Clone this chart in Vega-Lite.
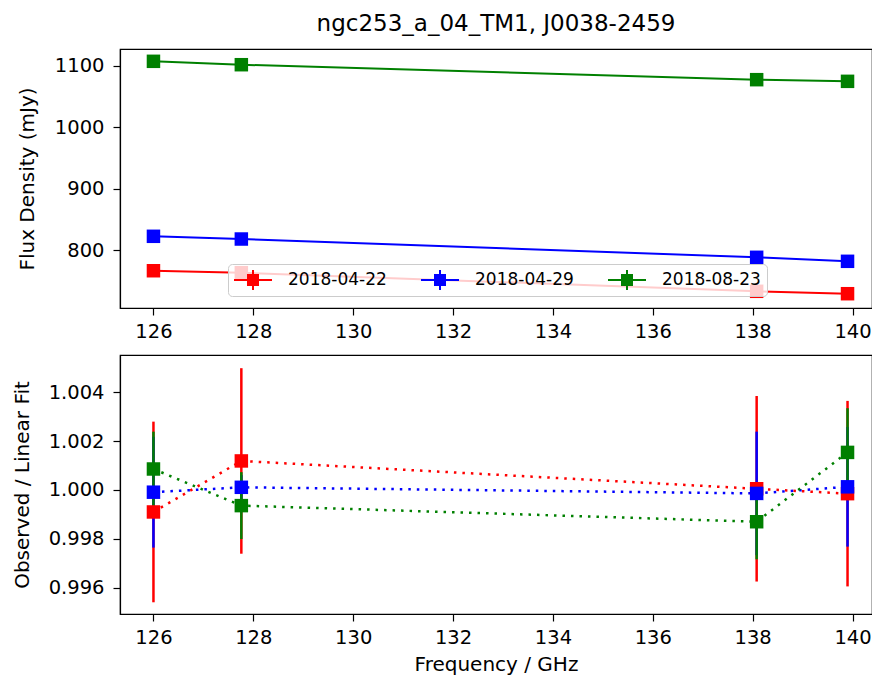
{
  "$schema": "https://vega.github.io/schema/vega-lite/v6.json",
  "padding": {"left": 11, "top": 12, "right": 0, "bottom": 0},
  "background": "white",
  "config": {
    "font": "DejaVu Sans",
    "view": {"stroke": "black", "strokeWidth": 1.2},
    "axis": {
      "domainColor": "black", "domainWidth": 1.2, "tickColor": "black", "tickWidth": 1.2, "tickSize": 7,
      "labelColor": "black", "titleColor": "black", "labelFont": "DejaVu Sans", "titleFont": "DejaVu Sans",
      "labelFontSize": 19.5, "titleFontSize": 20, "titleFontWeight": "normal", "grid": false
    }
  },
  "datasets": {
    "flux": [
      {"date": "2018-04-22", "freq": 126.0, "flux": 766.9},
      {"date": "2018-04-22", "freq": 127.76, "flux": 763.7},
      {"date": "2018-04-22", "freq": 138.08, "flux": 733.5},
      {"date": "2018-04-22", "freq": 139.9, "flux": 729.6},
      {"date": "2018-04-29", "freq": 126.0, "flux": 822.8},
      {"date": "2018-04-29", "freq": 127.76, "flux": 818.4},
      {"date": "2018-04-29", "freq": 138.08, "flux": 788.7},
      {"date": "2018-04-29", "freq": 139.9, "flux": 782.2},
      {"date": "2018-08-23", "freq": 126.0, "flux": 1106.9},
      {"date": "2018-08-23", "freq": 127.76, "flux": 1101.4},
      {"date": "2018-08-23", "freq": 138.08, "flux": 1077.1},
      {"date": "2018-08-23", "freq": 139.9, "flux": 1074.4}
    ],
    "ratio": [
      {"date": "2018-04-22", "freq": 126.0, "ratio": 0.9991, "err": 0.0037},
      {"date": "2018-04-22", "freq": 127.76, "ratio": 1.00119, "err": 0.0038},
      {"date": "2018-04-22", "freq": 138.08, "ratio": 1.00005, "err": 0.0038},
      {"date": "2018-04-22", "freq": 139.9, "ratio": 0.99985, "err": 0.0038},
      {"date": "2018-04-29", "freq": 126.0, "ratio": 0.99991, "err": 0.00227},
      {"date": "2018-04-29", "freq": 127.76, "ratio": 1.00011, "err": 0.0005},
      {"date": "2018-04-29", "freq": 138.08, "ratio": 0.99986, "err": 0.00253},
      {"date": "2018-04-29", "freq": 139.9, "ratio": 1.00013, "err": 0.00245},
      {"date": "2018-08-23", "freq": 126.0, "ratio": 1.00086, "err": 0.00153},
      {"date": "2018-08-23", "freq": 127.76, "ratio": 0.99936, "err": 0.00137},
      {"date": "2018-08-23", "freq": 138.08, "ratio": 0.9987, "err": 0.00154},
      {"date": "2018-08-23", "freq": 139.9, "ratio": 1.00154, "err": 0.00181}
    ]
  },
  "spacing": 12,
  "resolve": {"scale": {"color": "independent"}, "legend": {"color": "independent"}},
  "vconcat": [
    {
      "width": 752,
      "height": 259,
      "title": {"text": "ngc253_a_04_TM1, J0038-2459", "font": "DejaVu Sans", "fontSize": 23, "fontWeight": "normal", "color": "black", "anchor": "middle", "frame": "group", "offset": 13},
      "data": {"name": "flux"},
      "encoding": {
        "x": {"field": "freq", "type": "quantitative", "scale": {"domain": [125.33, 140.39], "nice": false, "zero": false},
              "axis": {"title": null, "values": [126, 128, 130, 132, 134, 136, 138, 140], "labelPadding": 7}},
        "y": {"field": "flux", "type": "quantitative", "scale": {"domain": [706.4, 1126.9], "nice": false, "zero": false},
              "axis": {"title": "Flux Density (mJy)", "values": [800, 900, 1000, 1100], "format": "d", "labelPadding": 9, "titleX": -93, "titleBaseline": "middle"}},
        "color": {"field": "date", "type": "nominal", "scale": {"domain": ["2018-04-22", "2018-04-29", "2018-08-23"], "range": ["#ff0000", "#0000ff", "#008000"]},
          "legend": {"orient": "none", "legendX": 108, "legendY": 215, "direction": "horizontal", "columns": 3, "title": null,
            "symbolType": "M-1.9,-0.1H1.9V0.1H-1.9ZM-0.1,-1H0.1V1H-0.1ZM-0.6,-0.6H0.6V0.6H-0.6Z",
            "symbolSize": 400, "symbolOffset": 9, "labelOffset": 25, "columnPadding": 34, "padding": 6,
            "fillColor": "rgba(255,255,255,0.8)", "strokeColor": "#cccccc", "cornerRadius": 4,
            "labelFont": "DejaVu Sans", "labelFontSize": 17, "labelColor": "black", "labelLimit": 300,
            "symbolStrokeWidth": 0, "symbolOpacity": 1}}
      },
      "layer": [
        {
          "mark": {"type": "line", "strokeWidth": 2}
        },
        {
          "mark": {"type": "point", "shape": "square", "filled": true, "size": 182, "opacity": 1}
        }
      ]
    },
    {
      "width": 752,
      "height": 259,
      "data": {"name": "ratio"},
      "encoding": {
        "x": {"field": "freq", "type": "quantitative", "scale": {"domain": [125.33, 140.39], "nice": false, "zero": false},
              "axis": {"title": "Frequency / GHz", "values": [126, 128, 130, 132, 134, 136, 138, 140], "labelPadding": 7, "titlePadding": 8}},
        "color": {"field": "date", "type": "nominal", "scale": {"domain": ["2018-04-22", "2018-04-29", "2018-08-23"], "range": ["#ff0000", "#0000ff", "#008000"]}, "legend": null}
      },
      "layer": [
        {
          "mark": {"type": "errorbar", "thickness": 2.5},
          "encoding": {
            "y": {"field": "ratio", "type": "quantitative", "scale": {"domain": [0.99492, 1.00553], "nice": false, "zero": false},
                  "axis": {"title": "Observed / Linear Fit", "values": [0.996, 0.998, 1.0, 1.002, 1.004], "format": ".3f", "labelPadding": 9, "titleX": -98, "titleBaseline": "middle"}},
            "yError": {"field": "err"}
          }
        },
        {
          "mark": {"type": "line", "strokeWidth": 2.5, "strokeDash": [2.5, 6]},
          "encoding": {
            "y": {"field": "ratio", "type": "quantitative"}
          }
        },
        {
          "mark": {"type": "point", "shape": "square", "filled": true, "size": 182, "opacity": 1},
          "encoding": {
            "y": {"field": "ratio", "type": "quantitative"}
          }
        }
      ]
    }
  ]
}
